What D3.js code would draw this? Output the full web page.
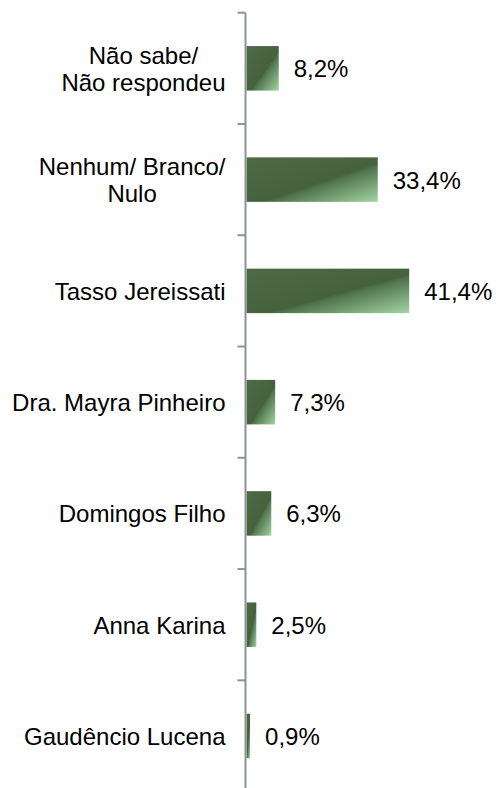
<!DOCTYPE html>
<html>
<head>
<meta charset="utf-8">
<script src="https://cdn.jsdelivr.net/npm/d3@7"></script>
<style>
  html, body { margin: 0; padding: 0; background: #ffffff; }
  svg { display: block; }
  text { font-family: "Liberation Sans", Arial, sans-serif; }
</style>
</head>
<body>
<svg id="chart" width="496" height="788"></svg>
<script>
const categories = [
  ["Não sabe/", "Não respondeu"],
  ["Nenhum/ Branco/", "Nulo"],
  ["Tasso Jereissati"],
  ["Dra. Mayra Pinheiro"],
  ["Domingos Filho"],
  ["Anna Karina"],
  ["Gaudêncio Lucena"]
];
const values = [8.2, 33.4, 41.4, 7.3, 6.3, 2.5, 0.9];
const valueLabels = ["8,2%", "33,4%", "41,4%", "7,3%", "6,3%", "2,5%", "0,9%"];

const keys = categories.map(c => c.join(" "));
const W = 496, H = 788;
const svg = d3.select("#chart");

const axisX = 245.5;
const y = d3.scaleBand()
  .domain(keys)
  .range([12.7, 791.6])
  .paddingInner(0.6)
  .paddingOuter(0.3);
const step = y.step();

const x = d3.scaleLinear().domain([0, 50]).range([246.5, 246.5 + 50 * 3.93]);

const defs = svg.append("defs");
const grad = defs.append("linearGradient")
  .attr("id", "barGrad")
  .attr("x1", 0).attr("y1", 0).attr("x2", 1).attr("y2", 1);
grad.append("stop").attr("offset", 0).attr("stop-color", "#4d6b45");
grad.append("stop").attr("offset", 0.56).attr("stop-color", "#46623d");
grad.append("stop").attr("offset", 0.61).attr("stop-color", "#527750");
grad.append("stop").attr("offset", 1).attr("stop-color", "#a4d5a2");

// Bars
svg.selectAll("rect.bar")
  .data(values)
  .enter().append("rect")
  .attr("class", "bar")
  .attr("x", x(0))
  .attr("y", (d, i) => y(keys[i]))
  .attr("width", d => x(d) - x(0))
  .attr("height", y.bandwidth())
  .attr("fill", "url(#barGrad)");

// Axis line and ticks
const boundaries = d3.range(keys.length + 1).map(i => y.range()[0] + i * step);
svg.append("line")
  .attr("x1", axisX).attr("x2", axisX)
  .attr("y1", boundaries[0]).attr("y2", boundaries[boundaries.length - 1])
  .attr("stroke", "#8c939a").attr("stroke-width", 2);
svg.selectAll("line.tick")
  .data(boundaries)
  .enter().append("line")
  .attr("class", "tick")
  .attr("x1", axisX - 8).attr("x2", axisX)
  .attr("y1", d => d).attr("y2", d => d)
  .attr("stroke", "#8c939a").attr("stroke-width", 2);

// Category labels (wrapped blocks, centered lines, block right-aligned)
const fontSize = 24, lineH = 27, labelRight = 225.5;
categories.forEach((lines, i) => {
  const cy = y(keys[i]) + y.bandwidth() / 2;
  const g = svg.append("g");
  const texts = lines.map((ln, j) => g.append("text")
    .attr("font-size", fontSize)
    .attr("fill", "#000")
    .attr("y", cy - (lines.length - 1) * lineH / 2 + j * lineH + 9)
    .text(ln));
  const widths = texts.map(t => t.node().getComputedTextLength());
  const blockW = d3.max(widths);
  const centerX = labelRight - blockW / 2;
  texts.forEach(t => t.attr("x", centerX).attr("text-anchor", "middle"));
});

// Value labels
svg.selectAll("text.val")
  .data(values)
  .enter().append("text")
  .attr("class", "val")
  .attr("x", d => x(d) + 15)
  .attr("y", (d, i) => y(keys[i]) + y.bandwidth() / 2 + 9)
  .attr("font-size", fontSize)
  .attr("fill", "#000")
  .text((d, i) => valueLabels[i]);
</script>
</body>
</html>
